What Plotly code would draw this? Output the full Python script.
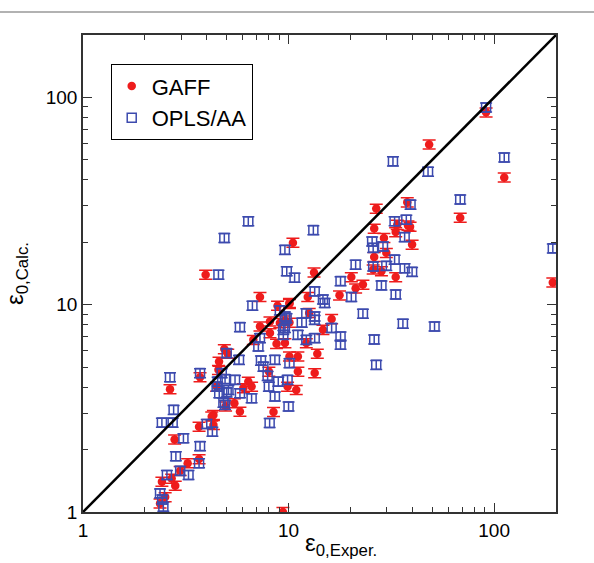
import plotly.graph_objects as go
import math

# GAFF (red) : experimental vs calculated dielectric constants
gaff_x = [91.4, 48.3, 112, 68.4, 193, 26.7, 37.8, 26.1, 33.8, 38.1, 39.0, 33.2, 29.1, 39.9, 29.9, 26.1,
          25.8, 28.3, 33.2, 23.0, 10.5, 13.3, 20.2, 21.2, 17.7, 12.4, 10.1, 16.2, 14.7, 12.2, 9.6, 13.8,
          13.4, 11.1, 11.1, 10.1, 9.6, 10.1, 12.6, 7.26, 8.84, 10.1, 9.07, 8.12, 7.26, 8.12, 6.74, 8.74,
          4.87, 5.06, 4.59, 3.71, 8.02, 6.37, 6.03, 6.61, 9.89, 5.45, 5.80, 4.31, 4.56, 10.9, 2.65, 2.79,
          3.67, 4.23, 4.31, 3.23, 3.67, 2.97, 2.70, 2.42, 2.81, 2.51, 2.37, 9.39, 3.95, 4.94, 4.47, 8.45]
gaff_y = [84.7, 59.3, 41.1, 26.3, 12.8, 29.1, 31.2, 23.3, 24.3, 24.1, 23.8, 22.4, 21.0, 19.5, 17.8, 17.0,
          14.8, 14.5, 13.6, 12.5, 19.9, 14.3, 13.6, 12.0, 11.1, 10.9, 10.2, 8.53, 7.57, 6.53, 6.53, 5.80,
          4.68, 4.76, 5.63, 5.63, 8.4, 8.2, 9.13, 10.9, 9.89, 10.1, 8.16, 8.3, 7.86, 7.3, 6.77, 6.48,
          6.11, 5.80, 5.32, 4.47, 4.76, 4.26, 3.96, 4.03, 4.03, 3.35, 3.05, 2.94, 4.85, 3.88, 3.91, 2.24,
          2.58, 2.89, 2.63, 1.72, 1.80, 1.58, 1.45, 1.40, 1.34, 1.18, 1.10, 1.0, 13.96, 3.23, 4.03, 3.04]

# OPLS/AA (blue)
opls_x = [91.4, 112, 68.4, 193, 32.2, 47.7, 39.2, 32.8, 37.4, 36.7, 25.5, 25.8, 28.8, 32.8, 25.8, 29.9,
          36.7, 39.9, 28.3, 33.2, 23.0, 36.0, 51.3, 26.1, 13.2, 9.6, 21.2, 9.8, 10.7, 17.9, 20.2, 13.4,
          14.7, 12.2, 13.4, 16.2, 17.9, 17.9, 26.7, 10.1, 12.2, 13.4, 11.1, 9.6, 9.6, 11.6, 15.0, 13.4,
          6.37, 4.87, 4.56, 6.67, 9.07, 9.78, 5.80, 9.43, 9.43, 7.26, 7.13, 5.74, 3.71, 7.34, 7.54, 8.58,
          7.91, 5.49, 4.91, 4.47, 5.10, 5.80, 6.61, 8.02, 8.91, 8.58, 4.91, 10.0, 9.89, 2.65, 2.76, 2.42,
          2.73, 3.08, 4.0, 4.26, 3.71, 2.83, 3.67, 2.97, 2.56, 3.26, 2.37, 2.46, 5.0, 4.73, 4.52, 4.6,
          5.0, 4.82, 8.09, 2.43]
opls_y = [89.5, 51.3, 32.2, 18.7, 49.2, 43.8, 30.4, 25.3, 25.7, 21.2, 20.2, 18.8, 19.1, 16.5, 15.3, 15.4,
          15.0, 14.4, 12.4, 11.2, 9.05, 8.1, 7.86, 6.8, 22.9, 18.4, 15.6, 14.5, 13.5, 13.0, 10.9, 11.6,
          10.6, 9.1, 8.78, 7.72, 7.03, 6.41, 5.13, 5.23, 6.77, 6.9, 7.16, 7.72, 8.78, 8.2, 10.2, 8.45,
          25.3, 21.0, 13.96, 9.89, 9.39, 8.62, 7.8, 7.57, 7.16, 6.9, 6.29, 5.42, 4.68, 5.38, 5.03, 5.42,
          4.54, 4.34, 4.38, 4.03, 3.88, 3.74, 3.54, 4.03, 4.26, 3.61, 3.29, 3.23, 4.34, 4.47, 3.11, 2.70,
          2.70, 2.27, 2.66, 2.44, 2.08, 1.86, 1.72, 1.58, 1.51, 1.51, 1.23, 1.06, 5.84, 4.68, 4.26, 3.74,
          3.78, 3.37, 2.69, 1.15]

diag = [1, 200]
axis_range = [1, 200]
major_ticks = [1, 10, 100]
minor_ticks = [2, 3, 4, 5, 6, 7, 8, 9, 20, 30, 40, 50, 60, 70, 80, 90, 200]

RED = "#ee1c1c"
BLUE = "#3c4aae"
FONT = "Liberation Sans, Arial, sans-serif"

fig = go.Figure()
fig.add_trace(go.Scatter(
    x=gaff_x, y=gaff_y, mode="markers", name="GAFF",
    marker=dict(symbol="circle", size=8.5, color=RED),
    error_y=dict(type="percent", value=5, color=RED, thickness=1.5, width=6.5),
))
fig.add_trace(go.Scatter(
    x=opls_x, y=opls_y, mode="markers", name="OPLS/AA",
    marker=dict(symbol="square-open", size=9, color=BLUE, line=dict(width=1.5, color=BLUE)),
    error_y=dict(type="percent", value=5, color=BLUE, thickness=1.5, width=6),
))
fig.add_trace(go.Scatter(
    x=diag, y=diag, mode="lines", showlegend=False, hoverinfo="skip",
    line=dict(color="black", width=2.5),
))

axis_common = dict(
    type="log",
    range=[math.log10(axis_range[0]), math.log10(axis_range[1])],
    tickmode="array", tickvals=major_ticks, ticktext=[str(v) for v in major_ticks],
    ticks="inside", ticklen=9, tickwidth=1.2, tickcolor="#333",
    showline=True, linecolor="#333", linewidth=1.5, mirror="allticks",
    showgrid=False, zeroline=False, automargin=False,
    tickfont=dict(family=FONT, size=19, color="black"),
    minor=dict(tickmode="array", tickvals=minor_ticks, ticks="inside", ticklen=5,
               tickwidth=1, tickcolor="#333", showgrid=False),
)

fig.update_layout(
    width=594, height=563,
    margin=dict(l=83, r=38, t=35, b=51),
    paper_bgcolor="white", plot_bgcolor="white",
    font=dict(family=FONT, color="black"),
    showlegend=True,
    legend=dict(
        x=0.0586, y=0.9386, xanchor="left", yanchor="top",
        bordercolor="black", borderwidth=1, bgcolor="white",
        font=dict(family=FONT, size=22, color="black"),
        tracegroupgap=0,
    ),
    xaxis=dict(**axis_common),
    yaxis=dict(**axis_common,
               title=dict(text="ε<sub>0,Calc.</sub>", font=dict(family=FONT, size=24))),
    annotations=[dict(
        text="ε<sub>0,Exper.</sub>", xref="paper", yref="paper",
        x=0.466, y=-0.104, xanchor="left", yanchor="bottom", showarrow=False,
        font=dict(family=FONT, size=24, color="black"),
    )],
    shapes=[dict(type="line", xref="paper", yref="paper", x0=-0.3, x1=1.3, y0=1.048, y1=1.048,
                 line=dict(color="#999999", width=1.5))],
)

fig.write_html("out.html")
